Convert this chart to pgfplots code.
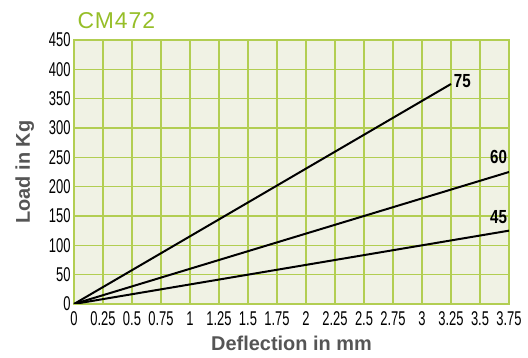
\documentclass[border=0pt]{standalone}
\usepackage{pgfplots}
\pgfplotsset{compat=1.18}
\usepackage{fontspec}
\setmainfont{Liberation Sans}
\newfontfamily\cond[FakeStretch=0.65]{Liberation Sans}
\newfontfamily\condb[FakeStretch=0.8]{Liberation Sans}
\newfontfamily\titlef[LetterSpace=4]{Liberation Sans}
\definecolor{bgc}{RGB}{240,242,228}
\definecolor{gridc}{RGB}{178,206,82}
\definecolor{titlec}{RGB}{150,190,40}
\definecolor{labc}{RGB}{85,85,85}
\begin{document}
\begin{tikzpicture}
\begin{axis}[
  name=ax,
  scale only axis,
  width=435bp, height=264bp,
  xmin=0, xmax=3.75, ymin=0, ymax=450,
  xtick={0,0.25,...,3.75},
  xticklabels={0,0.25,0.5,0.75,1,1.25,1.5,1.75,2,2.25,2.5,2.75,3,3.25,3.5,3.75},
  ytick={0,50,...,450},
  grid=major,
  major grid style={gridc, line width=1.2pt},
  axis line style={gridc, line width=1.2pt},
  axis background/.style={fill=bgc},
  major tick length=0pt,
  /pgf/number format/assume math mode=true,
  ticklabel style={font=\cond\fontsize{20}{20}\selectfont, text=black},
  xticklabel style={yshift=-4bp},
  yticklabel style={xshift=0bp},
  xlabel={\textbf{Deflection in mm}},
  ylabel={\textbf{Load in Kg}},
  label style={font=\fontsize{20}{20}\selectfont, text=labc},
  xlabel style={yshift=-4bp},
  ylabel style={yshift=8bp},
  title={CM472},
  title style={font=\titlef\fontsize{23}{23}\selectfont, text=titlec, anchor=south west, at={(rel axis cs:0,1)}, yshift=2bp, xshift=0bp},
]
\addplot[black, line width=2pt] coordinates {(0,0) (3.25,375)} node[anchor=south west, font=\bfseries\condb\fontsize{19}{19}\selectfont, inner sep=1pt, xshift=1pt, yshift=-6pt] {75};
\addplot[black, line width=2pt] coordinates {(0,0) (3.75,225)} node[anchor=south east, font=\bfseries\condb\fontsize{19}{19}\selectfont, inner sep=1pt, yshift=6pt] {60};
\addplot[black, line width=2pt] coordinates {(0,0) (3.75,125)} node[anchor=south east, font=\bfseries\condb\fontsize{19}{19}\selectfont, inner sep=1pt, yshift=5pt] {45};
\end{axis}
\pgfresetboundingbox
\path ([xshift=-74bp,yshift=-54bp]ax.south west) rectangle ([xshift=19bp,yshift=40bp]ax.north east);
\end{tikzpicture}
\end{document}
